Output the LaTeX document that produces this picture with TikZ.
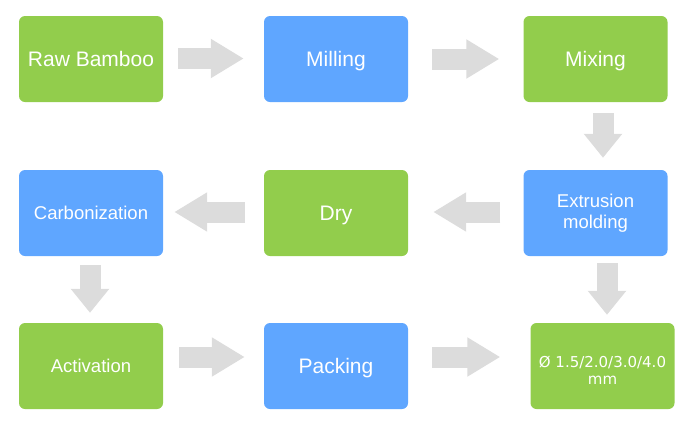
\documentclass[tikz,border=0pt]{standalone}
\usepackage{fontspec}
\setmainfont{Liberation Sans}
\newfontfamily\numfont{DejaVu Sans}
\usetikzlibrary{arrows.meta,calc}
\definecolor{boxgreen}{HTML}{92CD4C}
\definecolor{boxblue}{HTML}{5FA6FF}
\definecolor{arrowgray}{HTML}{DCDCDC}
\begin{document}
\begin{tikzpicture}[x=1pt,y=-1pt,
  box/.style={minimum width=144pt,minimum height=86pt,rounded corners=6pt,
    text=white,align=center,inner sep=0pt},
  gbox/.style={box,fill=boxgreen},
  bbox/.style={box,fill=boxblue},
  bigtxt/.style={font=\fontsize{21}{24}\selectfont,text height=15pt,text depth=0pt},
  smalltxt/.style={font=\fontsize{18.5}{21}\selectfont,text height=13.2pt,text depth=0pt},
  twoline/.style={font=\fontsize{18.5}{21}\selectfont},
  harrow/.style={draw=arrowgray,line width=21pt,-{Triangle[width=37pt,length=33pt]}},
  varrow/.style={draw=arrowgray,line width=21pt,-{Triangle[width=37pt,length=24pt]}}]
\path[use as bounding box] (0,0) rectangle (686,424);
% row 1
\node[gbox,bigtxt] (raw) at (91,59) {Raw Bamboo};
\node[bbox,bigtxt] (mill) at (336,59) {Milling};
\node[gbox,bigtxt] (mix) at (595.5,59) {Mixing};
% row 2
\node[bbox,smalltxt] (carb) at (91,213) {Carbonization};
\node[gbox,bigtxt] (dry) at (336,213) {Dry};
\node[bbox,twoline] (extr) at (595.5,213) {Extrusion\\molding};
% row 3
\node[gbox,smalltxt] (act) at (91,366) {Activation};
\node[bbox,bigtxt] (pack) at (336,366) {Packing};
\node[gbox,font=\numfont\fontsize{15}{17}\selectfont] (prod) at (602.5,366) {};
\node[text=white,align=center,inner sep=0pt,font=\numfont\fontsize{15}{17}\selectfont,yshift=-4pt] (prodtxt) at (prod.center) {Ø 1.5/2.0/3.0/4.0\\mm};
% arrows
\draw[harrow] ($(raw.east)+(15,-0.5)$) -- ($(mill.west)+(-20,-0.5)$);
\draw[harrow] ($(mill.east)+(24,0)$) -- ($(mix.west)+(-24,0)$);
\draw[varrow] ($(mix.south)+(7.5,11)$) -- ($(extr.north)+(7.5,-12)$);
\draw[harrow] ($(extr.west)+(-23,-1)$) -- ($(dry.east)+(25,-1)$);
\draw[harrow] ($(dry.west)+(-19,-1)$) -- ($(carb.east)+(11,-1)$);
\draw[varrow] ($(carb.south)+(-1,9)$) -- ($(act.north)+(-1,-10)$);
\draw[harrow] ($(act.east)+(16,-9)$) -- ($(pack.west)+(-19,-9)$);
\draw[harrow] ($(pack.east)+(24,-9)$) -- ($(prod.west)+(-30,-9)$);
\draw[varrow] ($(extr.south)+(11.5,7)$) -- ($(prod.north)+(4.5,-8)$);
\end{tikzpicture}
\end{document}
